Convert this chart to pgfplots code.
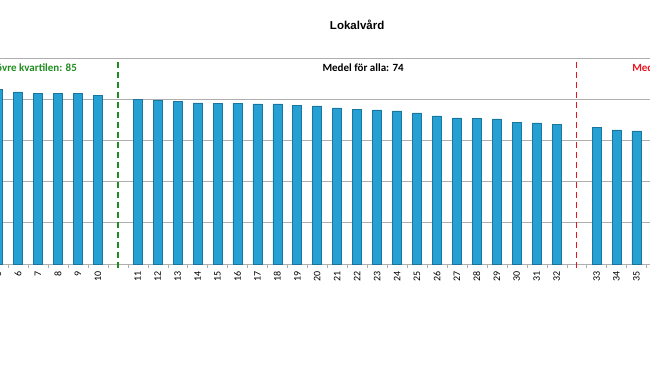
\documentclass[border=0pt]{standalone}
\usepackage{pgfplots}
\pgfplotsset{compat=1.18}
\usepackage{fontspec}
\setmainfont{Carlito}
\newfontfamily\titlefont{Liberation Sans}
\definecolor{barmid}{RGB}{38,160,210}
\definecolor{baredge}{RGB}{24,118,160}
\definecolor{gridc}{RGB}{175,175,175}
\definecolor{qgreen}{RGB}{30,140,30}
\definecolor{qred}{RGB}{235,20,30}
\pgfplotstableread{
pos val lab
5 84.9 5
6 83.5 6
7 83.0 7
8 83.0 8
9 82.6 9
10 82.0 10
12 79.9 11
13 79.6 12
14 79.1 13
15 78.2 14
16 78.1 15
17 78.1 16
18 77.7 17
19 77.7 18
20 76.8 19
21 76.7 20
22 75.8 21
23 74.9 22
24 74.8 23
25 74.3 24
26 73.3 25
27 71.9 26
28 70.9 27
29 70.8 28
30 70.4 29
31 68.9 30
32 68.5 31
33 67.6 32
35 66.5 33
36 65.1 34
37 64.6 35
}\bars
\begin{document}
\begin{tikzpicture}
\useasboundingbox (0,0) rectangle (650bp,365bp);
\clip (0,0) rectangle (650bp,365bp);
\begin{axis}[
  at={(-21.9bp,101bp)}, anchor=south west,
  scale only axis, width=698.25bp, height=206bp,
  xmin=4, xmax=39, ymin=0, ymax=100,
  clip=false,
  axis x line*=bottom, axis y line*=left,
  axis line style={gridc},
  ytick={0,20,...,100}, yticklabels={},
  ymajorgrids, major grid style={gridc, line width=0.6pt},
  major y tick style={draw=none},
  xtick={5,6,7,8,9,10,12,13,14,15,16,17,18,19,20,21,22,23,24,25,26,27,28,29,30,31,32,33,35,36,37},
  xticklabels={5,6,7,8,9,10,11,12,13,14,15,16,17,18,19,20,21,22,23,24,25,26,27,28,29,30,31,32,33,34,35},
  major x tick style={draw=none},
  minor xtick={4.5,5.5,...,38.5},
  minor tick length=4bp, tick align=outside,
  minor x tick style={gridc},
  xticklabel style={rotate=90, anchor=east, font=\fontsize{10bp}{11bp}\selectfont, inner sep=2.5bp},
]
\addplot[ybar, bar width=9bp, draw=baredge, line width=0.7pt, fill=barmid]
  table[x=pos, y=val] {\bars};
\addplot[qgreen, line width=1.6pt, dash pattern=on 6bp off 4bp] coordinates {(11,98) (11,-1.8)};
\addplot[qred, line width=1.6pt, dash pattern=on 6bp off 4bp] coordinates {(34,98) (34,-1.8)};
\node[font=\bfseries\fontsize{11bp}{12bp}\selectfont, anchor=east, text=qgreen, inner sep=0pt] at (axis cs:8.96,95.1) {Medel i övre kvartilen: 85};
\node[font=\bfseries\fontsize{11bp}{12bp}\selectfont, anchor=center, inner sep=0pt] at (axis cs:23.3,95.1) {Medel för alla: 74};
\node[font=\bfseries\fontsize{11bp}{12bp}\selectfont, anchor=west, text=qred, inner sep=0pt] at (axis cs:36.78,95.1) {Medel i nedre kvartilen: 62};
\node[font=\titlefont\bfseries\fontsize{11.5bp}{13bp}\selectfont, inner sep=0pt] at (axis cs:23,116) {Lokalvård};
\end{axis}
\end{tikzpicture}
\end{document}
